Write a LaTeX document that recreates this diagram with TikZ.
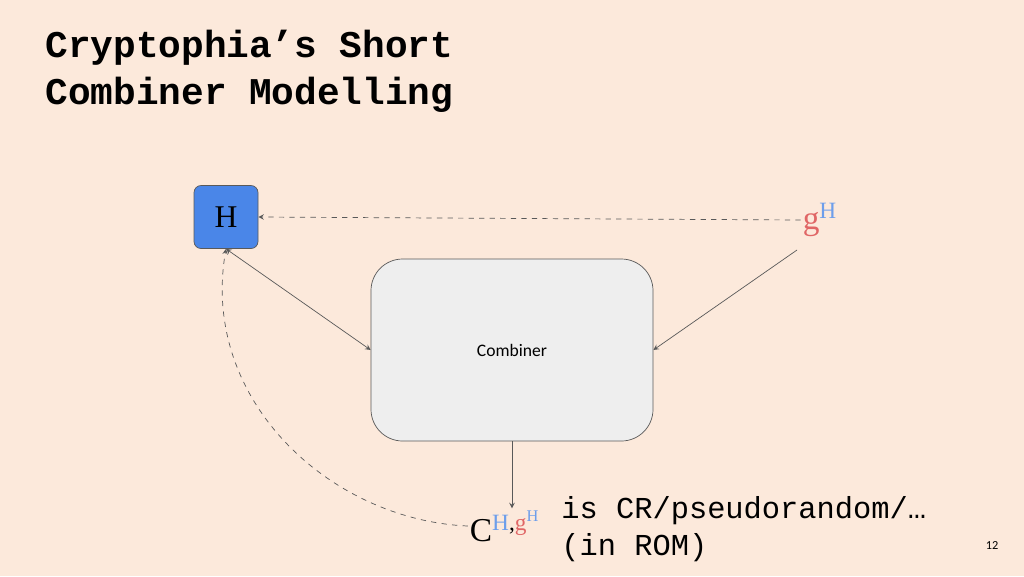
\documentclass[tikz,border=0pt]{standalone}
\usepackage{fontspec}
\setmainfont{Liberation Serif}
\setmonofont{Liberation Mono}
\setsansfont{Carlito}
\usetikzlibrary{positioning}
\definecolor{bg}{HTML}{FCE9DB}
\definecolor{hblue}{HTML}{4A86E8}
\definecolor{lblue}{HTML}{6D9EEB}
\definecolor{lred}{HTML}{E06666}
\definecolor{boxgray}{HTML}{EEEEEE}
\definecolor{edge}{HTML}{595959}
\tikzset{
  link/.style={edge, thin, -stealth},
  dlink/.style={edge, thin, dashed, -stealth},
}
\begin{document}
\begin{tikzpicture}[x=0.02cm, y=-0.02cm]
  \fill[bg] (0,0) rectangle (1024,576);
  \useasboundingbox (0,0) rectangle (1024,576);

  \node[anchor=west, inner sep=0pt, font=\ttfamily\bfseries\fontsize{21.5}{25}\selectfont] (title1) at (45,48) {Cryptophia’s Short};
  \node[anchor=west, inner sep=0pt, font=\ttfamily\bfseries\fontsize{21.5}{25}\selectfont] (title2) at (45,95) {Combiner Modelling};

  \node[draw=edge, fill=hblue, rounded corners=4pt, minimum width=64*0.02cm, minimum height=63*0.02cm,
        font=\fontsize{18}{22}\selectfont] (H) at (226,217) {H};
  \node[draw=edge, fill=boxgray, rounded corners=18pt, minimum width=282*0.02cm, minimum height=182*0.02cm,
        font=\sffamily\fontsize{10}{12}\selectfont] (comb) at (512,350) {Combiner};
  \node[font=\fontsize{19}{23}\selectfont, inner sep=1pt] (gH) at (820,220)
        {\textcolor{lred}{g}\textsuperscript{\textcolor{lblue}{H}}};
  \node[font=\fontsize{19}{23}\selectfont, inner sep=1pt] (C) at (505,526)
        {C\textsuperscript{\textcolor{lblue}{H},\textcolor{lred}{g}\textsuperscript{\textcolor{lblue}{H}}}};
  \node[anchor=north west, align=left, font=\ttfamily\fontsize{17.3}{21}\selectfont, inner sep=0pt] (claim) at (561,496)
        {is CR/pseudorandom/…\\ (in ROM)};
  \node[font=\sffamily\fontsize{7}{8}\selectfont] (page) at (992,545) {12};

  \coordinate (gHin) at (797,250);
  \draw[dlink] (gH.west) -- (H.east);
  \draw[link] (gHin) -- (comb.west -| comb.east);
  \draw[link, stealth-stealth] (H.south) -- (comb.west);
  \draw[link] (comb.south) -- (C.north -| comb.south);
  \draw[dlink] (C.west) .. controls (330,520) and (200,400) .. (H.south);
\end{tikzpicture}
\end{document}
